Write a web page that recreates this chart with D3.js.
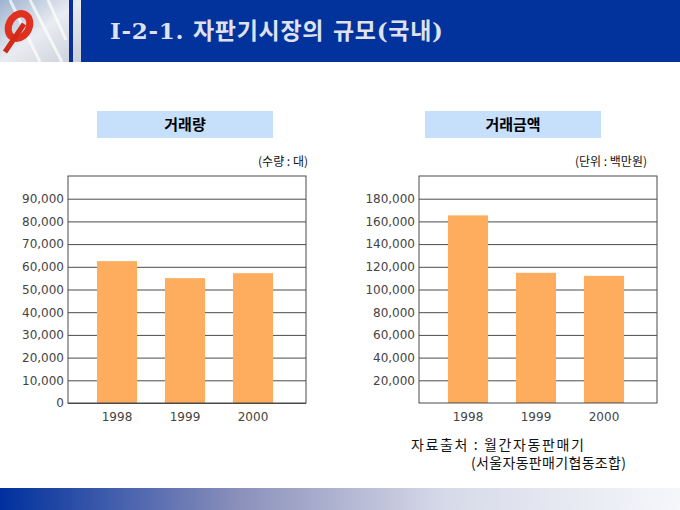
<!DOCTYPE html>
<html>
<head>
<meta charset="utf-8">
<script src="https://cdn.jsdelivr.net/npm/d3@7"></script>
<style>
  body { margin: 0; background: #fff; }
  svg { display: block; }
</style>
</head>
<body>
<script>
// values
var years = ["1998", "1999", "2000"];
var volume = [62500, 55000, 57200];        // 거래량 (대)
var amount = [165300, 114700, 112000];     // 거래금액 (백만원)
var volumeTicks = [0, 10000, 20000, 30000, 40000, 50000, 60000, 70000, 80000, 90000];
var amountTicks = [20000, 40000, 60000, 80000, 100000, 120000, 140000, 160000, 180000];

var W = 680, H = 510;
var svg = d3.select("body").append("svg").attr("width", W).attr("height", H);
var defs = svg.append("defs");

// ---- header ----
var lg = defs.append("linearGradient").attr("id", "logoBg").attr("x1", 0).attr("y1", 0).attr("x2", 1).attr("y2", 1);
lg.append("stop").attr("offset", 0).attr("stop-color", "#9fb3cf");
lg.append("stop").attr("offset", 0.5).attr("stop-color", "#e9ecf1");
lg.append("stop").attr("offset", 1).attr("stop-color", "#c9ced8");

svg.append("rect").attr("x", 0).attr("y", 0).attr("width", 81).attr("height", 62).attr("fill", "url(#logoBg)");
[[10, 0, 40, 62], [30, 0, 62, 62], [48, 0, 66, 40]].forEach(function(l){
	svg.append("line").attr("x1", l[0]).attr("y1", l[1]).attr("x2", l[2]).attr("y2", l[3])
		.attr("stroke", "#ffffff").attr("stroke-width", 3).attr("opacity", 0.7);
});
// red "e" logo
svg.append("ellipse").attr("cx", 19).attr("cy", 26).attr("rx", 10).attr("ry", 13)
	.attr("transform", "rotate(30,19,26)")
	.attr("fill", "none").attr("stroke", "#e0301e").attr("stroke-width", 7);
svg.append("line").attr("x1", 5).attr("y1", 52).attr("x2", 24).attr("y2", 24)
	.attr("stroke", "#d02a18").attr("stroke-width", 5);
svg.append("rect").attr("x", 69).attr("y", 0).attr("width", 4).attr("height", 62).attr("fill", "#0a2f9a");
svg.append("rect").attr("x", 81).attr("y", 0).attr("width", W - 81).attr("height", 62).attr("fill", "#02329c");
svg.append("text").attr("x", 110).attr("y", 39)
	.attr("font-family", "'DejaVu Serif', 'Noto Sans CJK KR', serif")
	.attr("font-size", 23).attr("font-weight", "bold").attr("fill", "#dfe2ee")
	.attr("textLength", 333).attr("lengthAdjust", "spacing")
	.text("I-2-1. 자판기시장의 규모(국내)");

// ---- footer gradient ----
var fg = defs.append("linearGradient").attr("id", "footBg");
fg.append("stop").attr("offset", 0).attr("stop-color", "#00309e");
fg.append("stop").attr("offset", 0.35).attr("stop-color", "#8a90bb");
fg.append("stop").attr("offset", 0.65).attr("stop-color", "#d6d9e8");
fg.append("stop").attr("offset", 1).attr("stop-color", "#f6f7fb");
svg.append("rect").attr("x", 0).attr("y", 488).attr("width", W).attr("height", H - 488).attr("fill", "url(#footBg)");

// ---- charts ----
function drawChart(opt){
	var g = svg.append("g");
	var x0 = opt.left, x1 = opt.left + 238, yTop = 176, yBot = 403;

	// title box
	g.append("rect").attr("x", opt.boxX).attr("y", 111).attr("width", 176).attr("height", 27).attr("fill", "#c6dffa");
	g.append("text").attr("x", opt.boxX + 88).attr("y", 129.5).attr("text-anchor", "middle")
		.attr("font-family", "'Noto Sans CJK KR', sans-serif").attr("font-size", 15).attr("font-weight", "bold")
		.attr("fill", "#000").text(opt.title);
	g.append("text").attr("x", opt.unitX).attr("y", 166).attr("text-anchor", "end")
		.attr("font-family", "'Noto Sans CJK KR', sans-serif").attr("font-size", 12)
		.attr("fill", "#111").text(opt.unit);

	var x = d3.scaleBand().domain(years).range([x0 + 15, x1 - 19]).paddingInner(0.41).paddingOuter(0.205);
	var y = d3.scaleLinear().domain([0, opt.max]).range([yBot, yTop]);

	// gridlines + tick labels
	var ax = g.append("g").attr("transform", "translate(" + x0 + ",0)")
		.call(d3.axisLeft(y).tickValues(opt.ticks).tickSize(-(x1 - x0)).tickPadding(4)
			.tickFormat(d3.format(",")));
	ax.select(".domain").remove();
	ax.selectAll(".tick line").attr("stroke", "#4a4a4a").attr("stroke-width", 1);
	ax.selectAll(".tick text").attr("font-family", "'DejaVu Sans', sans-serif")
		.attr("font-size", 12).attr("fill", "#444");

	// bars
	g.selectAll("rect.bar").data(opt.values).enter().append("rect")
		.attr("class", "bar")
		.attr("x", function(d, i){ return x(years[i]); })
		.attr("width", x.bandwidth())
		.attr("y", function(d){ return y(d); })
		.attr("height", function(d){ return yBot - y(d); })
		.attr("fill", "#fdad5d");

	// plot border
	g.append("rect").attr("x", x0).attr("y", yTop).attr("width", x1 - x0).attr("height", yBot - yTop)
		.attr("fill", "none").attr("stroke", "#4a4a4a").attr("stroke-width", 1);

	// category axis
	var bx = g.append("g").attr("transform", "translate(0," + yBot + ")")
		.call(d3.axisBottom(x).tickSize(0).tickPadding(9));
	bx.select(".domain").remove();
	bx.selectAll(".tick text").attr("font-family", "'DejaVu Sans', sans-serif")
		.attr("font-size", 12).attr("fill", "#444");
}

drawChart({ left: 68, boxX: 97, unitX: 308, title: "거래량", unit: "(수량 : 대)",
	values: volume, max: 100000, ticks: volumeTicks });
drawChart({ left: 419, boxX: 425, unitX: 647, title: "거래금액", unit: "(단위 : 백만원)",
	values: amount, max: 200000, ticks: amountTicks });

// source note
svg.append("text").attr("x", 411).attr("y", 450)
	.attr("font-family", "'Noto Sans CJK KR', sans-serif").attr("font-size", 14).attr("fill", "#111")
	.attr("textLength", 173).attr("lengthAdjust", "spacing")
	.text("자료출처 : 월간자동판매기");
svg.append("text").attr("x", 471).attr("y", 468)
	.attr("font-family", "'Noto Sans CJK KR', sans-serif").attr("font-size", 14).attr("fill", "#111")
	.attr("textLength", 155).attr("lengthAdjust", "spacing")
	.text("(서울자동판매기협동조합)");
</script>
</body>
</html>
